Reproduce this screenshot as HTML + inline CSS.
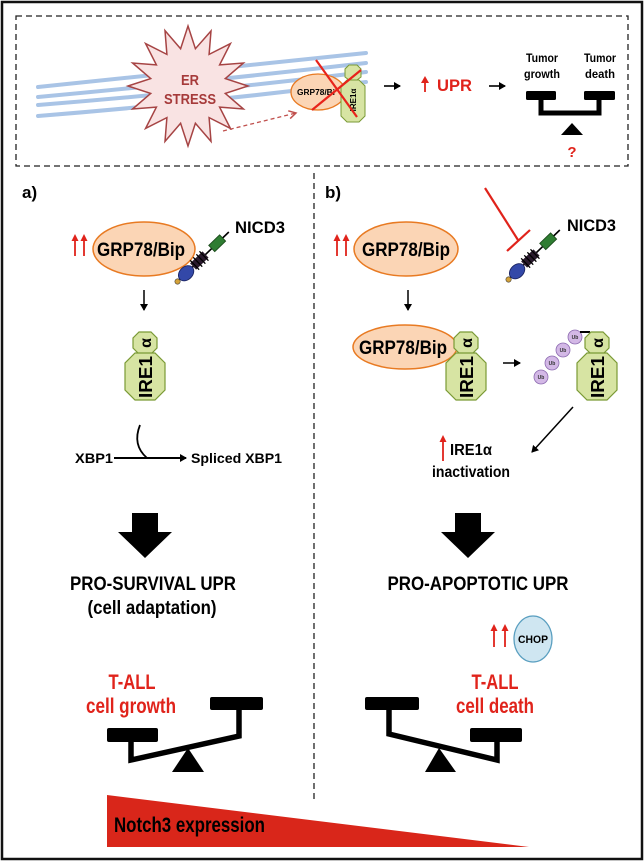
<!DOCTYPE html>
<html><head><meta charset="utf-8"><style>
html,body{margin:0;padding:0;background:#fff;}
svg{display:block;}
text{font-family:"Liberation Sans",sans-serif;font-weight:bold;}
</style></head><body>
<svg width="644" height="862" viewBox="0 0 644 862" xmlns="http://www.w3.org/2000/svg">
<defs>
<marker id="ah" markerWidth="8" markerHeight="8" refX="6" refY="4" orient="auto" markerUnits="userSpaceOnUse"><path d="M0,0 L7,4 L0,8 Z" fill="#000"/></marker>
<marker id="ahr" markerWidth="10" markerHeight="10" refX="8" refY="5" orient="auto" markerUnits="userSpaceOnUse"><path d="M1,1 L8,5 L1,9" fill="none" stroke="#c0504d" stroke-width="1.5"/></marker>
</defs>
<rect x="2" y="2" width="640" height="857" fill="#fff" stroke="#111" stroke-width="2.5"/>
<rect x="16" y="16" width="612" height="150" fill="none" stroke="#222" stroke-width="1.3" stroke-dasharray="6,4"/>
<g fill="none" stroke="#a9c4e6" stroke-width="4" stroke-linecap="round">
<path d="M38,87 Q200,70 366,53"/>
<path d="M38,97 Q200,82 366,63"/>
<path d="M38,105 Q200,92 366,72"/>
<path d="M38,116 Q200,103 366,82"/>
</g>
<polygon fill="#f9e3e3" stroke="#a64444" stroke-width="1.5" points="188,26 195.4,48.7 211,31 209.1,54.4 230.4,43.6 219.6,64.9 243.4,63 225.3,78.6 248,86 225.3,93.4 243.4,109 219.6,107.1 230.4,128.4 209.1,117.6 211,141.4 195.4,123.3 188,146 180.6,123.3 165,141.4 166.9,117.6 145.6,128.4 156.4,107.1 132.6,109 150.7,93.4 128,86 150.7,78.6 132.6,63 156.4,64.9 145.6,43.6 166.9,54.4 165,30.6 180.6,48.7"/>
<text x="190" y="85" font-size="15" fill="#a63a3a" text-anchor="middle" font-weight="normal" textLength="18" lengthAdjust="spacingAndGlyphs">ER</text>
<text x="190" y="104" font-size="15" fill="#a63a3a" text-anchor="middle" font-weight="normal" textLength="52" lengthAdjust="spacingAndGlyphs">STRESS</text>
<line x1="223" y1="131" x2="296" y2="113" stroke="#c0504d" stroke-width="1.3" stroke-dasharray="4,3" marker-end="url(#ahr)"/>
<ellipse cx="318" cy="92" rx="27" ry="18" fill="#fbd5b5" stroke="#e87a22" stroke-width="1.3"/>
<text x="316" y="95" font-size="8" text-anchor="middle" textLength="38" lengthAdjust="spacingAndGlyphs">GRP78/Bi</text>
<polygon fill="#d7e4a3" stroke="#7a9a35" stroke-width="1" points="349,65 357,65 361,69 361,77 357,80 349,80 345,77 345,69"/>
<polygon fill="#d7e4a3" stroke="#7a9a35" stroke-width="1" points="347,80 359,80 365,86 365,116 359,122 347,122 341,116 341,86"/>
<text transform="translate(356,100) rotate(-90)" font-size="8" text-anchor="middle">IRE1α</text>
<line x1="316" y1="60" x2="357" y2="117" stroke="#e8231b" stroke-width="2.2"/>
<line x1="361" y1="70" x2="312" y2="110" stroke="#e8231b" stroke-width="2.2"/>
<line x1="384" y1="86" x2="400" y2="86" stroke="#000" stroke-width="1.6" marker-end="url(#ah)"/>
<line x1="425" y1="92" x2="425" y2="82" stroke="#e0231b" stroke-width="1.8"/><polygon points="421,83 425,76 429,83" fill="#e0231b"/>
<text x="437" y="91" font-size="17" fill="#e0231b" textLength="35" lengthAdjust="spacingAndGlyphs">UPR</text>
<line x1="489" y1="86" x2="505" y2="86" stroke="#000" stroke-width="1.6" marker-end="url(#ah)"/>
<text x="542" y="62" font-size="12" text-anchor="middle" textLength="32" lengthAdjust="spacingAndGlyphs">Tumor</text>
<text x="542" y="78" font-size="12" text-anchor="middle" textLength="36" lengthAdjust="spacingAndGlyphs">growth</text>
<text x="600" y="62" font-size="12" text-anchor="middle" textLength="32" lengthAdjust="spacingAndGlyphs">Tumor</text>
<text x="600" y="78" font-size="12" text-anchor="middle" textLength="30" lengthAdjust="spacingAndGlyphs">death</text>
<rect x="526" y="91" width="30" height="9" rx="1.5" fill="#000"/>
<rect x="584" y="91" width="31" height="9" rx="1.5" fill="#000"/>
<path d="M541,99 V113 H599 V99" fill="none" stroke="#000" stroke-width="5"/>
<polygon points="572,123 561,135 583,135" fill="#000"/>
<text x="572" y="157" font-size="15" fill="#e0231b" text-anchor="middle">?</text>
<line x1="314" y1="173" x2="314" y2="802" stroke="#222" stroke-width="1.3" stroke-dasharray="6,4"/>
<text x="22" y="198" font-size="17">a)</text>
<text x="325" y="198" font-size="17">b)</text>

<!-- LEFT panel -->
<g fill="#e0231b" stroke="#e0231b" stroke-width="1.8">
<line x1="75" y1="256" x2="75" y2="240"/><polygon points="71.5,241 75,234 78.5,241" stroke="none"/>
<line x1="84" y1="256" x2="84" y2="240"/><polygon points="80.5,241 84,234 87.5,241" stroke="none"/>
</g>
<ellipse cx="144" cy="249" rx="51" ry="27" fill="#fbd5b5" stroke="#e87a22" stroke-width="1.5"/>
<text x="141" y="256" font-size="19" text-anchor="middle" textLength="88" lengthAdjust="spacingAndGlyphs">GRP78/Bip</text>
<text x="235" y="233" font-size="17" textLength="50" lengthAdjust="spacingAndGlyphs">NICD3</text>
<g transform="translate(176,283) rotate(-44) scale(1.08)">
<line x1="0" y1="0" x2="68" y2="0" stroke="#000" stroke-width="1.5"/>
<circle cx="2" cy="0" r="2.5" fill="#d4a23a" stroke="#333" stroke-width="0.5"/>
<ellipse cx="13" cy="0" rx="8" ry="6" fill="#3348a8" stroke="#1a2360" stroke-width="0.8"/>
<rect x="22" y="-4" width="16" height="8" fill="#2a1a2e"/>
<g stroke="#000" stroke-width="1.2"><line x1="24" y1="-6" x2="24" y2="6"/><line x1="28" y1="-6" x2="28" y2="6"/><line x1="32" y1="-6" x2="32" y2="6"/><line x1="36" y1="-6" x2="36" y2="6"/></g>
<rect x="46" y="-4" width="14" height="8" fill="#2f7d32" stroke="#1a4a1a" stroke-width="0.8"/>
</g>
<line x1="144" y1="290" x2="144" y2="310" stroke="#000" stroke-width="1.5" marker-end="url(#ah)"/>
<polygon fill="#d7e4a3" stroke="#7a9a35" stroke-width="1.2" points="139,332 151,332 157,338 157,348 151,354 139,354 133,348 133,338"/>
<polygon fill="#d7e4a3" stroke="#7a9a35" stroke-width="1.2" points="135,353 155,353 165,363 165,390 155,400 135,400 125,390 125,363"/>
<text transform="translate(151,343) rotate(-90)" font-size="16" text-anchor="middle">α</text>
<text transform="translate(152,377) rotate(-90)" font-size="18" text-anchor="middle" textLength="42" lengthAdjust="spacingAndGlyphs">IRE1</text>
<path d="M140,425 Q132,445 147,458" fill="none" stroke="#000" stroke-width="1.8"/>
<line x1="114" y1="458" x2="186" y2="458" stroke="#000" stroke-width="2" marker-end="url(#ah)"/>
<text x="75" y="463" font-size="14" textLength="38" lengthAdjust="spacingAndGlyphs">XBP1</text>
<text x="191" y="463" font-size="14" textLength="91" lengthAdjust="spacingAndGlyphs">Spliced XBP1</text>
<polygon fill="#000" points="132,513 158,513 158,532 172,532 145,558 118,532 132,532"/>
<text x="153" y="590" font-size="19" text-anchor="middle" textLength="166" lengthAdjust="spacingAndGlyphs">PRO-SURVIVAL UPR</text>
<text x="152" y="614" font-size="19" text-anchor="middle" textLength="129" lengthAdjust="spacingAndGlyphs">(cell adaptation)</text>
<text x="132" y="689" font-size="21" fill="#e0231b" text-anchor="middle" textLength="47" lengthAdjust="spacingAndGlyphs">T-ALL</text>
<text x="131" y="713" font-size="21" fill="#e0231b" text-anchor="middle" textLength="90" lengthAdjust="spacingAndGlyphs">cell growth</text>
<rect x="107" y="728" width="51" height="14" rx="2" fill="#000"/>
<rect x="210" y="697" width="53" height="13" rx="2" fill="#000"/>
<path d="M131,740 V760 L239,736 V708" fill="none" stroke="#000" stroke-width="5.5"/>
<polygon points="188,748 172,772 204,772" fill="#000"/>

<!-- RIGHT panel -->
<g fill="#e0231b" stroke="#e0231b" stroke-width="1.8">
<line x1="337" y1="256" x2="337" y2="240"/><polygon points="333.5,241 337,234 340.5,241" stroke="none"/>
<line x1="346" y1="256" x2="346" y2="240"/><polygon points="342.5,241 346,234 349.5,241" stroke="none"/>
</g>
<ellipse cx="406" cy="249" rx="52" ry="27" fill="#fbd5b5" stroke="#e87a22" stroke-width="1.5"/>
<text x="406" y="256" font-size="19" text-anchor="middle" textLength="88" lengthAdjust="spacingAndGlyphs">GRP78/Bip</text>
<line x1="485" y1="188" x2="518" y2="240" stroke="#e0231b" stroke-width="2.2"/>
<line x1="507" y1="251" x2="530" y2="230" stroke="#e0231b" stroke-width="2.2"/>
<text x="567" y="231" font-size="17" textLength="49" lengthAdjust="spacingAndGlyphs">NICD3</text>
<g transform="translate(507,281) rotate(-44) scale(1.08)">
<line x1="0" y1="0" x2="68" y2="0" stroke="#000" stroke-width="1.5"/>
<circle cx="2" cy="0" r="2.5" fill="#d4a23a" stroke="#333" stroke-width="0.5"/>
<ellipse cx="13" cy="0" rx="8" ry="6" fill="#3348a8" stroke="#1a2360" stroke-width="0.8"/>
<rect x="22" y="-4" width="16" height="8" fill="#2a1a2e"/>
<g stroke="#000" stroke-width="1.2"><line x1="24" y1="-6" x2="24" y2="6"/><line x1="28" y1="-6" x2="28" y2="6"/><line x1="32" y1="-6" x2="32" y2="6"/><line x1="36" y1="-6" x2="36" y2="6"/></g>
<rect x="46" y="-4" width="14" height="8" fill="#2f7d32" stroke="#1a4a1a" stroke-width="0.8"/>
</g>
<line x1="408" y1="290" x2="408" y2="310" stroke="#000" stroke-width="1.5" marker-end="url(#ah)"/>
<ellipse cx="405" cy="347" rx="52" ry="22" fill="#fbd5b5" stroke="#e87a22" stroke-width="1.5"/>
<text x="403" y="354" font-size="19" text-anchor="middle" textLength="88" lengthAdjust="spacingAndGlyphs">GRP78/Bip</text>
<polygon fill="#d7e4a3" stroke="#7a9a35" stroke-width="1.2" points="460,332 472,332 478,338 478,348 472,354 460,354 454,348 454,338"/>
<polygon fill="#d7e4a3" stroke="#7a9a35" stroke-width="1.2" points="456,353 476,353 486,363 486,390 476,400 456,400 446,390 446,363"/>
<text transform="translate(472,343) rotate(-90)" font-size="16" text-anchor="middle">α</text>
<text transform="translate(473,377) rotate(-90)" font-size="18" text-anchor="middle" textLength="42" lengthAdjust="spacingAndGlyphs">IRE1</text>
<line x1="503" y1="363" x2="520" y2="363" stroke="#000" stroke-width="1.6" marker-end="url(#ah)"/>
<g fill="#d3b8e6" stroke="#8c6ab0" stroke-width="0.8">
<circle cx="541" cy="377" r="7"/><circle cx="552" cy="363" r="7"/><circle cx="563" cy="350" r="7"/><circle cx="575" cy="337" r="7"/>
</g>
<g font-size="5" text-anchor="middle" fill="#333"><text x="541" y="379">Ub</text><text x="552" y="365">Ub</text><text x="563" y="352">Ub</text><text x="575" y="339">Ub</text></g>
<line x1="580" y1="332" x2="590" y2="332" stroke="#000" stroke-width="2"/>
<polygon fill="#d7e4a3" stroke="#7a9a35" stroke-width="1.2" points="591,332 603,332 609,338 609,348 603,354 591,354 585,348 585,338"/>
<polygon fill="#d7e4a3" stroke="#7a9a35" stroke-width="1.2" points="587,353 607,353 617,363 617,390 607,400 587,400 577,390 577,363"/>
<text transform="translate(603,343) rotate(-90)" font-size="16" text-anchor="middle">α</text>
<text transform="translate(604,377) rotate(-90)" font-size="18" text-anchor="middle" textLength="42" lengthAdjust="spacingAndGlyphs">IRE1</text>
<line x1="573" y1="407" x2="532" y2="452" stroke="#000" stroke-width="1.5" marker-end="url(#ah)"/>
<line x1="443" y1="461" x2="443" y2="441" stroke="#e0231b" stroke-width="1.8"/><polygon points="439.5,442 443,435 446.5,442" fill="#e0231b"/>
<text x="450" y="455" font-size="16" textLength="42" lengthAdjust="spacingAndGlyphs">IRE1α</text>
<text x="471" y="477" font-size="16" text-anchor="middle" textLength="78" lengthAdjust="spacingAndGlyphs">inactivation</text>
<polygon fill="#000" points="455,513 481,513 481,532 495,532 468,558 441,532 455,532"/>
<text x="478" y="590" font-size="19" text-anchor="middle" textLength="181" lengthAdjust="spacingAndGlyphs">PRO-APOPTOTIC UPR</text>
<g fill="#e0231b" stroke="#e0231b" stroke-width="1.8">
<line x1="494" y1="647" x2="494" y2="630"/><polygon points="490.5,631 494,624 497.5,631" stroke="none"/>
<line x1="505" y1="647" x2="505" y2="630"/><polygon points="501.5,631 505,624 508.5,631" stroke="none"/>
</g>
<ellipse cx="533" cy="639" rx="19" ry="23" fill="#cfe6f1" stroke="#5a9fc0" stroke-width="1.3"/>
<text x="533" y="643" font-size="11" text-anchor="middle" textLength="30" lengthAdjust="spacingAndGlyphs">CHOP</text>
<text x="495" y="689" font-size="21" fill="#e0231b" text-anchor="middle" textLength="47" lengthAdjust="spacingAndGlyphs">T-ALL</text>
<text x="495" y="713" font-size="21" fill="#e0231b" text-anchor="middle" textLength="78" lengthAdjust="spacingAndGlyphs">cell death</text>
<rect x="365" y="697" width="54" height="13" rx="2" fill="#000"/>
<rect x="470" y="728" width="52" height="14" rx="2" fill="#000"/>
<path d="M389,708 V734 L497,760 V740" fill="none" stroke="#000" stroke-width="5.5"/>
<polygon points="439,748 425,772 456,772" fill="#000"/>

<polygon points="107,795 107,847 529,847" fill="#d9261a"/>
<text x="114" y="832" font-size="21" textLength="151" lengthAdjust="spacingAndGlyphs">Notch3 expression</text>
</svg>
</body></html>
